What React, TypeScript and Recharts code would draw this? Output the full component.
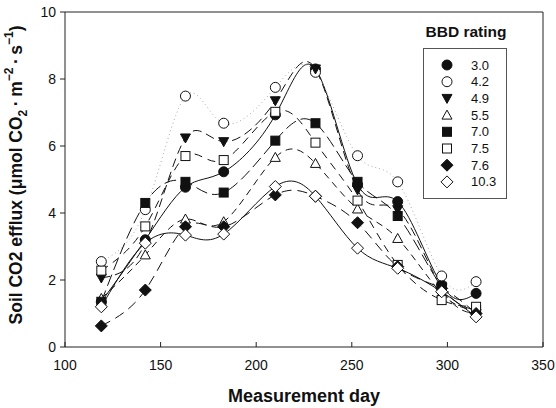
import { LineChart, Line, XAxis, YAxis, ReferenceLine } from 'recharts';

// measurement days and soil CO2 efflux per BBD rating
const days = [119, 142, 163, 183, 210, 231, 253, 274, 297, 315];
const ratings = ['3.0', '4.2', '4.9', '5.5', '7.0', '7.5', '7.6', '10.3'];

const bbd30 = [1.35, 3.2, 4.77, 5.23, 6.93, 8.3, 4.85, 4.34, 1.85, 1.6];
const bbd42 = [2.55, 4.1, 7.49, 6.68, 7.75, 8.2, 5.71, 4.93, 2.12, 1.95];
const bbd49 = [2.06, 3.1, 6.24, 6.13, 7.35, 8.3, 4.69, 4.1, 1.75, 1.0];
const bbd55 = [1.45, 2.75, 3.82, 3.74, 5.66, 5.48, 4.12, 3.24, 1.6, 1.1];
const bbd70 = [1.35, 4.3, 4.93, 4.61, 6.16, 6.68, 4.93, 3.91, 1.8, 1.1];
const bbd75 = [2.28, 3.6, 5.7, 5.58, 7.02, 6.1, 4.37, 2.45, 1.4, 1.2];
const bbd76 = [0.63, 1.7, 3.59, 3.59, 4.54, 4.5, 3.71, 2.4, 1.75, 1.0];
const bbd103 = [1.2, 3.1, 3.34, 3.37, 4.79, 4.5, 2.95, 2.35, 1.65, 0.9];

const xTicks = [100, 150, 200, 250, 300, 350];
const yTicks = [0, 2, 4, 6, 8, 10];

const seriesValues = [bbd30, bbd42, bbd49, bbd55, bbd70, bbd75, bbd76, bbd103];

// marker shape / line style for each rating
const styles = [
  { shape: 'circle', filled: true, dash: undefined, color: '#111' },
  { shape: 'circle', filled: false, dash: '1 3', color: '#aaa' },
  { shape: 'tdown', filled: true, dash: '9 5', color: '#111' },
  { shape: 'tup', filled: false, dash: '7 5', color: '#111' },
  { shape: 'square', filled: true, dash: '12 5', color: '#111' },
  { shape: 'square', filled: false, dash: '8 6', color: '#111' },
  { shape: 'diamond', filled: true, dash: '10 6', color: '#111' },
  { shape: 'diamond', filled: false, dash: undefined, color: '#111' },
];

const data = days.map((d, i) => {
  const row: any = { day: d };
  ratings.forEach((r, k) => (row['s' + k] = seriesValues[k][i]));
  return row;
});

const FONT = '"Liberation Sans", Arial, sans-serif';

const Marker = ({ shape, filled, cx, cy, size = 10 }: any) => {
  const h = size / 2;
  const fill = filled ? '#111' : '#fff';
  const common = { fill, stroke: '#111', strokeWidth: 1 };
  if (shape === 'circle') return <circle cx={cx} cy={cy} r={h} {...common} />;
  if (shape === 'square') return <rect x={cx - h + 0.5} y={cy - h + 0.5} width={size - 1} height={size - 1} {...common} />;
  if (shape === 'tdown')
    return <polygon points={`${cx - h},${cy - h * 0.8} ${cx + h},${cy - h * 0.8} ${cx},${cy + h}`} {...common} />;
  if (shape === 'tup')
    return <polygon points={`${cx - h},${cy + h * 0.8} ${cx + h},${cy + h * 0.8} ${cx},${cy - h}`} {...common} />;
  return <polygon points={`${cx},${cy - h - 1} ${cx + h + 1},${cy} ${cx},${cy + h + 1} ${cx - h - 1},${cy}`} {...common} />;
};

const App = () => {
  return (
    <div style={{ position: 'absolute', left: 0, top: 0, width: 556, height: 408 }}>
      <LineChart width={556} height={408} data={data} margin={{ top: 12, right: 12, left: 0, bottom: 0 }}>
        <XAxis
          dataKey="day"
          type="number"
          domain={[100, 350]}
          ticks={xTicks}
          height={61}
          tickSize={-5}
          tickMargin={18}
          stroke="#222"
          tick={{ fill: '#111', fontSize: 14, fontFamily: FONT }}
        />
        <YAxis
          type="number"
          domain={[0, 10]}
          ticks={yTicks}
          width={65}
          tickSize={5}
          tickMargin={4}
          stroke="#222"
          tick={{ fill: '#111', fontSize: 14, fontFamily: FONT }}
        />
        <YAxis
          yAxisId="r"
          orientation="right"
          type="number"
          domain={[0, 10]}
          ticks={yTicks}
          width={1}
          tickSize={-5}
          tick={false}
          stroke="#222"
        />
        <ReferenceLine y={10} stroke="#222" />
        {ratings.map((r, k) => {
          const st = styles[k];
          return (
            <Line
              key={r}
              dataKey={'s' + k}
              name={r}
              type="natural"
              stroke={st.color}
              strokeWidth={1}
              strokeDasharray={st.dash}
              isAnimationActive={false}
              activeDot={false}
              dot={(p: any) => (
                <Marker key={`${r}-${p.index}`} shape={st.shape} filled={st.filled} cx={p.cx} cy={p.cy} />
              )}
            />
          );
        })}
      </LineChart>
      <svg width={556} height={408} style={{ position: 'absolute', left: 0, top: 0, pointerEvents: 'none' }}>
        <text
          x={16}
          y={175}
          transform="rotate(-90, 16, 175)"
          textAnchor="middle"
          dominantBaseline="central"
          fontFamily={FONT}
          fontWeight="bold"
          fontSize={17.5}
          fill="#111"
        >
          Soil CO2 efflux (μmol CO<tspan baselineShift="sub" fontSize={12}>2</tspan>{'\u2009·\u2009'}m
          <tspan baselineShift="super" fontSize={12}>−2</tspan>{'\u2009·\u2009'}s
          <tspan baselineShift="super" fontSize={12}>−1</tspan>)
        </text>
        <text x={304} y={402} textAnchor="middle" fontFamily={FONT} fontWeight="bold" fontSize={18} fill="#111">
          Measurement day
        </text>
        <text x={466} y={37} textAnchor="middle" fontFamily={FONT} fontWeight="bold" fontSize={15.5} fill="#111">
          BBD rating
        </text>
        <rect x={423.5} y={48.5} width={83} height={150} fill="#fff" stroke="#555" strokeWidth={1} />
        {ratings.map((r, k) => (
          <g key={r}>
            <Marker shape={styles[k].shape} filled={styles[k].filled} cx={447} cy={65 + k * 16.7} />
            <text x={471} y={65 + k * 16.7} dominantBaseline="central" fontFamily={FONT} fontSize={13} fill="#111">
              {r}
            </text>
          </g>
        ))}
      </svg>
    </div>
  );
};

export default App;
